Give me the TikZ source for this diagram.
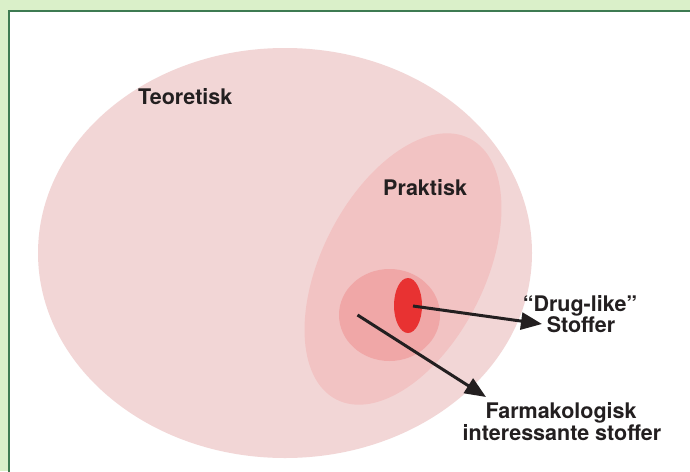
\documentclass[tikz,border=0pt]{standalone}
\usepackage{fontspec}
\setmainfont{TeX Gyre Heros}
\usetikzlibrary{arrows.meta,shapes.geometric}
\definecolor{bggreen}{HTML}{DAF0C9}
\definecolor{framegreen}{HTML}{3E7B52}
\definecolor{teocol}{HTML}{F2D6D6}
\definecolor{prakcol}{HTML}{F2C3C3}
\definecolor{farmcol}{HTML}{F0A7A7}
\definecolor{drugcol}{HTML}{E83232}
\definecolor{txtcol}{HTML}{231F20}
\tikzset{
  lbl/.style={font=\fontsize{21.5}{22}\selectfont\bfseries, text=txtcol, inner sep=0pt, anchor=base},
  blob/.style={ellipse, draw=none, inner sep=0pt},
  pointer/.style={draw=txtcol, line width=3pt, -{Triangle[length=21pt,width=17pt]}}
}
\begin{document}
\begin{tikzpicture}[x=1pt,y=-1pt]
\useasboundingbox (0,0) rectangle (690,471);
\fill[bggreen] (0,0) rectangle (690,471);
\filldraw[fill=white, draw=framegreen, line width=2pt] (9,11) rectangle (720,500);

\node[blob, fill=teocol, minimum width=494pt, minimum height=410pt] (teo) at (285,253) {};
\node[blob, fill=prakcol, minimum width=293pt, minimum height=163pt, rotate=63] (prak) at (403,269) {};
\node[blob, fill=farmcol, minimum width=101pt, minimum height=92pt] (farm) at (389.5,315) {};
\node[blob, fill=drugcol, minimum width=28pt, minimum height=55pt] (drug) at (408,305.5) {};

\node[lbl, anchor=base west] (teotxt) at (138,104.3) {Teoretisk};
\node[lbl, anchor=base west] (praktxt) at (383,195) {Praktisk};
\node[lbl] (drugtxt) at (580,311) {“Drug-like”};
\node[lbl] (drugtxtb) at (581,332) {Stoffer};
\node[lbl] (farmtxt) at (561,418) {Farmakologisk};
\node[lbl] (farmtxtb) at (562,440) {interessante stoffer};

\coordinate (drugstart) at (413,306);
\coordinate (drugend) at (542,324);
\coordinate (farmstart) at (357.5,315);
\coordinate (farmend) at (486,397);
\draw[pointer] (drugstart) -- (drugend);
\draw[pointer] (farmstart) -- (farmend);
\end{tikzpicture}
\end{document}
